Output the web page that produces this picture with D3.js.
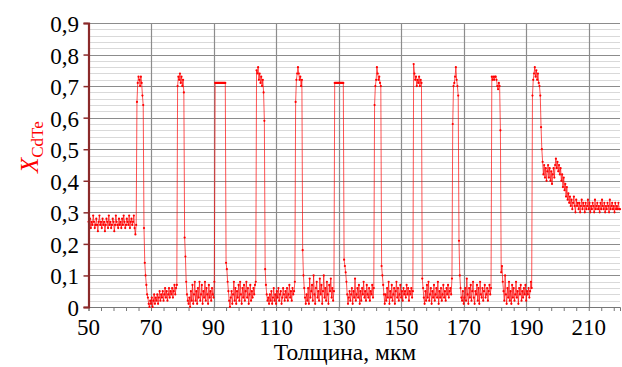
<!DOCTYPE html>
<html>
<head>
<meta charset="utf-8">
<script src="https://cdn.jsdelivr.net/npm/d3@7"></script>
<style>
body{margin:0;background:#fff;}
</style>
</head>
<body>
<script>
// X_CdTe profile, sampled every 0.25 um
var base0 = [0.27,0.26,0.28,0.25,0.27,0.26,0.29,0.27,0.25,0.26,
	0.28,0.26,0.24,0.27,0.29,0.26,0.27,0.25,0.28,0.26,
	0.27,0.24,0.26,0.28,0.27,0.25,0.29,0.26,0.27,0.25,
	0.26,0.28,0.27,0.24,0.26,0.29,0.27,0.26,0.25,0.28,
	0.26,0.27,0.25,0.28,0.26,0.29,0.27,0.25,0.26,0.28,
	0.27,0.26,0.29,0.25,0.27,0.28,0.26,0.27,0.29,0.25,0.23];
var peak1 = [0.26,0.65,0.71,0.73,0.72,0.70,0.73,0.71,0.67,0.64,0.25,0.14,0.10,0.07,0.04,0.03,0.01];
var low1 = [0.00,0.02,0.01,0.03,0.00,0.02,0.04,0.01,0.03,0.02,
	0.04,0.01,0.03,0.05,0.02,0.04,0.03,0.05,0.02,0.04,
	0.06,0.03,0.05,0.02,0.04,0.06,0.03,0.05,0.04,0.06,
	0.03,0.05,0.07,0.04,0.06,0.07];
var peak2 = [0.70,0.73,0.72,0.74,0.71,0.73,0.70,0.72,0.68,0.22,0.16,0.08,0.04,0.02];
var low2 = [0.01,0.03,0.00,0.05,0.02,0.07,0.01,0.04,0.08,0.02,
	0.05,0.01,0.06,0.03,0.08,0.02,0.04,0.07,0.01,0.05,
	0.03,0.08,0.02,0.06,0.04,0.01,0.07,0.03,0.05,0.02,
	0.06,0.04,0.03,0.08];
var peak3 = [0.71,0.71,0.71,0.71,0.71,0.71,0.71,0.71,0.71,0.71,0.71,0.71,0.71,0.71,0.14,0.12,0.08,0.05,0.02];
var low3 = [0.00,0.03,0.05,0.01,0.04,0.08,0.02,0.06,0.01,0.05,
	0.03,0.07,0.02,0.08,0.04,0.01,0.06,0.03,0.07,0.02,
	0.05,0.08,0.03,0.06,0.01,0.04,0.07,0.02,0.05,0.03,
	0.06,0.04,0.07,0.08];
var peak4 = [0.75,0.74,0.76,0.72,0.74,0.71,0.73,0.70,0.72,0.68,0.59,0.12,0.07,0.04,0.02];
var low4 = [0.03,0.01,0.04,0.02,0.05,0.01,0.03,0.06,0.02,0.04,
	0.01,0.05,0.03,0.06,0.02,0.04,0.05,0.01,0.03,0.06,
	0.04,0.02,0.05,0.03,0.06,0.02,0.04,0.07,0.03,0.05,
	0.02,0.06,0.04,0.05,0.08];
var peak5 = [0.65,0.72,0.74,0.76,0.74,0.72,0.73,0.70,0.72,0.18,0.10,0.06,0.03];
var low5 = [0.01,0.04,0.02,0.06,0.01,0.09,0.03,0.05,0.07,0.02,
	0.10,0.04,0.01,0.06,0.08,0.03,0.05,0.02,0.09,0.04,
	0.07,0.01,0.05,0.10,0.03,0.06,0.02,0.08,0.04,0.01,
	0.07,0.05,0.09,0.03,0.06,0.02,0.05];
var peak6 = [0.71,0.71,0.71,0.71,0.71,0.71,0.71,0.71,0.71,0.71,0.71,0.71,0.15,0.13,0.11,0.08,0.04];
var low6 = [0.01,0.03,0.05,0.02,0.04,0.06,0.01,0.05,0.03,0.09,
	0.02,0.04,0.06,0.03,0.07,0.01,0.05,0.02,0.06,0.04,
	0.08,0.03,0.05,0.02,0.07,0.04,0.03,0.06,0.02,0.05,
	0.04,0.07,0.03,0.06];
var peak7 = [0.64,0.70,0.72,0.76,0.74,0.72,0.73,0.71,0.70,0.13,0.10,0.07,0.04];
var low7 = [0.01,0.04,0.02,0.06,0.03,0.08,0.01,0.05,0.03,0.07,
	0.02,0.04,0.06,0.01,0.05,0.08,0.03,0.06,0.02,0.04,
	0.07,0.03,0.05,0.02,0.06,0.04,0.05,0.03,0.07,0.04,
	0.06,0.02,0.05,0.04,0.06,0.03,0.05];
var peak8 = [0.77,0.74,0.72,0.73,0.70,0.72,0.71,0.73,0.70,0.72,0.71,0.09,0.06,0.03];
var low8 = [0.01,0.05,0.02,0.07,0.03,0.08,0.02,0.04,0.06,0.01,
	0.05,0.03,0.07,0.02,0.04,0.06,0.03,0.08,0.01,0.05,
	0.03,0.06,0.02,0.04,0.07,0.03,0.05,0.02,0.06,0.04,
	0.07,0.03,0.05,0.06,0.04,0.09];
var peak9 = [0.58,0.70,0.71,0.73,0.76,0.72,0.70,0.67,0.21,0.10,0.06,0.03];
var low9 = [0.02,0.05,0.01,0.03,0.06,0.02,0.09,0.04,0.01,0.06,
	0.03,0.07,0.02,0.05,0.08,0.03,0.01,0.05,0.04,0.07,
	0.02,0.06,0.01,0.08,0.04,0.03,0.06,0.02,0.05,0.07,
	0.03,0.04,0.06,0.02,0.05,0.07,0.04,0.06];
var peak10 = [0.73,0.72,0.73,0.72,0.73,0.73,0.72,0.70,0.69,0.71,0.70,0.56,0.11,0.13,0.08,0.05];
var low10 = [0.02,0.10,0.04,0.01,0.06,0.03,0.08,0.02,0.05,0.01,
	0.07,0.03,0.06,0.02,0.04,0.08,0.03,0.05,0.01,0.06,
	0.04,0.07,0.02,0.05,0.03,0.06,0.04,0.07,0.02,0.05,
	0.04,0.06,0.03,0.05,0.08,0.06];
var peak11 = [0.67,0.72,0.74,0.76,0.73,0.75,0.72,0.74,0.71,0.70,0.67,0.57,0.50,0.46];
var tail = [0.42,0.45,0.41,0.44,0.40,0.43,0.45,0.41,0.44,
	0.40,0.43,0.39,0.42,0.44,0.41,0.45,0.47,0.44,
	0.46,0.43,0.45,0.42,0.44,0.40,0.42,0.38,0.41,
	0.37,0.39,0.35,0.38,0.34,0.36,0.33,0.35,0.32,
	0.34,0.31,0.33,0.35,0.32,0.30,0.34,0.32,0.33,
	0.31,0.33,0.30,0.32,0.34,0.31,0.33,0.32,0.30,
	0.33,0.31,0.32,0.34,0.31,0.33,0.30,0.32,0.31,
	0.33,0.32,0.30,0.34,0.31,0.32,0.33,0.31,0.32,
	0.30,0.33,0.31,0.34,0.32,0.31,0.33,0.30,0.32,
	0.31,0.33,0.32,0.30,0.34,0.31,0.32,0.33,0.31,
	0.32,0.30,0.33,0.31,0.32,0.31,0.33,0.31,0.31];

// segment start positions (um)
var segStarts = [50,65.25,69.5,78.5,82,90.5,95.25,103.75,107.5,116.25,119.5,128.75,133,141.5,144.75,154,157.5,166.5,169.5,179,183,192,195.5];
var segments = [base0,peak1,low1,peak2,low2,peak3,low3,peak4,low4,peak5,low5,peak6,low6,peak7,low7,peak8,low8,peak9,low9,peak10,low10,peak11,tail];
var step = 0.25;

var xTicks = [50,70,90,110,130,150,170,190,210];
var yTicks = [0,0.1,0.2,0.3,0.4,0.5,0.6,0.7,0.8,0.9];

var data = [];
segments.forEach(function(seg,k){
	seg.forEach(function(v,i){ data.push({x:segStarts[k]+i*step, y:v}); });
});

var width = 622, height = 367;
var pLeft = 88.5, pRight = 620, pTop = 23, pBottom = 307;
var serif = "'Liberation Serif','Times New Roman','DejaVu Serif',serif";

var x = d3.scaleLinear().domain([50,220]).range([pLeft,pRight]);
var y = d3.scaleLinear().domain([0,0.9]).range([pBottom,pTop]);

var svg = d3.select("body").append("svg").attr("width",width).attr("height",height)
	.attr("font-family",serif);

// minor horizontal grid
svg.append("g").selectAll("line").data(d3.range(0,0.9001,0.02)).enter().append("line")
	.attr("x1",pLeft).attr("x2",pRight)
	.attr("y1",function(d){return Math.round(y(d))+0.5;}).attr("y2",function(d){return Math.round(y(d))+0.5;})
	.attr("stroke","#d9d9d9").attr("stroke-width",1);
// major horizontal grid
svg.append("g").selectAll("line").data(yTicks).enter().append("line")
	.attr("x1",pLeft).attr("x2",pRight)
	.attr("y1",function(d){return Math.round(y(d))+0.5;}).attr("y2",function(d){return Math.round(y(d))+0.5;})
	.attr("stroke","#8c8c8c").attr("stroke-width",1.2);
// vertical grid
svg.append("g").selectAll("line").data(xTicks.slice(1)).enter().append("line")
	.attr("x1",function(d){return Math.round(x(d))+0.5;}).attr("x2",function(d){return Math.round(x(d))+0.5;})
	.attr("y1",pTop).attr("y2",pBottom)
	.attr("stroke","#8c8c8c").attr("stroke-width",1.2);

// x axis
var xAxis = svg.append("g").attr("transform","translate(0,"+pBottom+")")
	.call(d3.axisBottom(x).tickValues(d3.range(50,221,4)).tickSize(4).tickFormat(""));
xAxis.select(".domain").attr("stroke","#777");
xAxis.selectAll(".tick line").attr("stroke","#777");
svg.append("g").selectAll("text").data(xTicks).enter().append("text")
	.attr("x",function(d){return x(d);}).attr("y",335)
	.attr("text-anchor","middle").attr("font-size","23px").attr("fill","#000")
	.text(function(d){return d;});

// data line
svg.append("path").datum(data)
	.attr("d",d3.line().x(function(d){return x(d.x);}).y(function(d){return y(d.y);}))
	.attr("fill","none").attr("stroke","#ff0000").attr("stroke-width",0.8).attr("stroke-opacity",0.85);
svg.append("g").selectAll("circle").data(data).enter().append("circle")
	.attr("cx",function(d){return x(d.x);}).attr("cy",function(d){return y(d.y);})
	.attr("r",1.1).attr("fill","#ff0000");

// y axis
var yAxis = svg.append("g").attr("transform","translate("+pLeft+",0)")
	.call(d3.axisLeft(y).tickValues(yTicks).tickSize(5).tickFormat(""));
yAxis.select(".domain").attr("stroke","#8b2a2a").attr("stroke-width",2.2);
yAxis.selectAll(".tick line").attr("stroke","#8b2a2a").attr("stroke-width",1.5);
svg.append("g").selectAll("text").data(yTicks).enter().append("text")
	.attr("x",79).attr("y",function(d){return y(d)+9;})
	.attr("text-anchor","end").attr("font-size","23px").attr("fill","#000")
	.text(function(d){return d===0 ? "0" : d3.format(".1f")(d).replace(".",",");});

// titles
svg.append("text").attr("x",345).attr("y",360).attr("text-anchor","middle")
	.attr("font-size","23.5px").attr("fill","#000").text("Толщина, мкм");

var yt = svg.append("text").attr("transform","translate(38,173) rotate(-90)")
	.attr("fill","#ff0000").attr("text-anchor","start");
yt.append("tspan").attr("font-style","italic").attr("font-size","25px").text("X");
yt.append("tspan").attr("font-size","17px").attr("dy","5").text("CdTe");
</script>
</body>
</html>
